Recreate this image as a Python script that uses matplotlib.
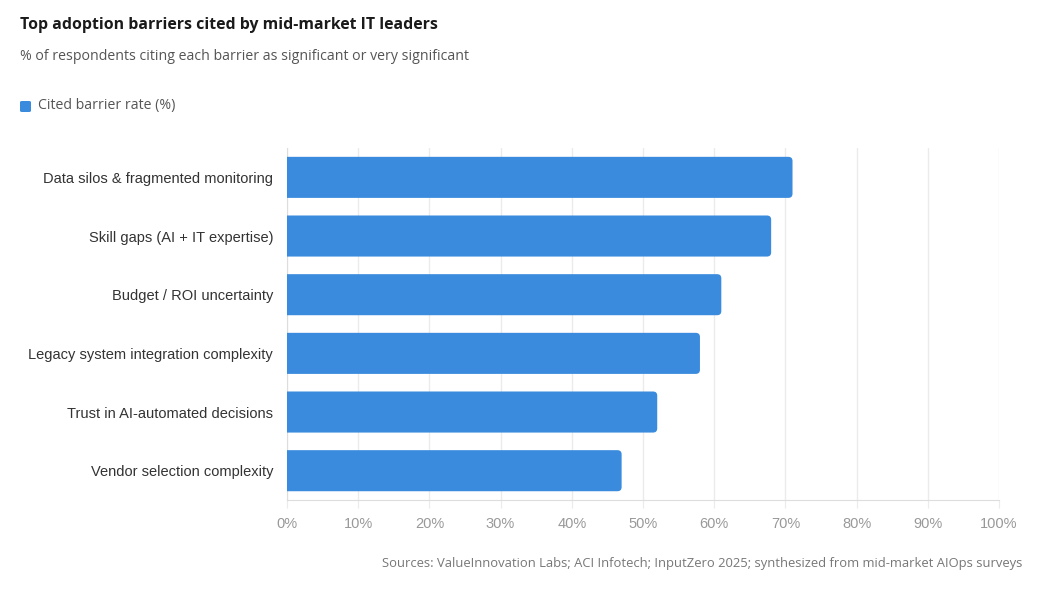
import matplotlib.pyplot as plt
from matplotlib.patches import FancyBboxPatch, PathPatch
from matplotlib.path import Path

barriers = [
    "Data silos & fragmented monitoring",
    "Skill gaps (AI + IT expertise)",
    "Budget / ROI uncertainty",
    "Legacy system integration complexity",
    "Trust in AI-automated decisions",
    "Vendor selection complexity",
]
rates = [71, 68, 61, 58, 52, 47]
ticks = [0, 10, 20, 30, 40, 50, 60, 70, 80, 90, 100]
tick_labels = [f"{t}%" for t in ticks]

bar_color = "#3A8BDD"
grid_color = "#ebebeb"


def right_rounded(x0, y0, w, h, rx, ry):
    x1, y1 = x0 + w, y0 + h
    verts = [(x0, y0), (x1 - rx, y0), (x1, y0), (x1, y0 + ry),
             (x1, y1 - ry), (x1, y1), (x1 - rx, y1), (x0, y1), (x0, y0)]
    codes = [Path.MOVETO, Path.LINETO, Path.CURVE3, Path.CURVE3,
             Path.LINETO, Path.CURVE3, Path.CURVE3, Path.LINETO, Path.CLOSEPOLY]
    return Path(verts, codes)


fig = plt.figure(figsize=(10.39, 5.94), dpi=100)
ax = fig.add_axes([0.2762, 0.1582, 0.9615 - 0.2762, 0.7508 - 0.1582])

ax.set_xlim(0, 100)
ax.set_ylim(len(barriers) - 0.5, -0.5)

# bars with rounded right end only
bars = ax.barh(range(len(barriers)), rates, height=0.7, color="none")
for b in bars:
    p = right_rounded(b.get_x(), b.get_y(), b.get_width(), b.get_height(), 0.6, 0.07)
    ax.add_patch(PathPatch(p, facecolor=bar_color, edgecolor="none", zorder=3))

ax.set_yticks(range(len(barriers)))
ax.set_yticklabels(barriers, fontsize=10.5, color="#333333", family="Liberation Sans")
ax.set_xticks(ticks)
ax.set_xticklabels(tick_labels, fontsize=10.5, color="#999999", family="Liberation Sans")
ax.tick_params(axis="y", length=0, pad=10)
ax.tick_params(axis="x", length=6, color=grid_color, pad=6)
ax.grid(axis="x", color=grid_color, linewidth=1, zorder=0)
for s in ["top", "right"]:
    ax.spines[s].set_visible(False)
ax.spines["bottom"].set_color("#dddddd")
ax.spines["left"].set_color("#dddddd")
ax.set_axisbelow(True)

fig.text(20 / 1039, 1 - 25 / 594, "Top adoption barriers cited by mid-market IT leaders",
         fontsize=11.4, fontweight="bold", color="#1a1a1a", family="Open Sans", va="center")
fig.text(20 / 1039, 1 - 57 / 594,
         "% of respondents citing each barrier as significant or very significant",
         fontsize=10.2, color="#555555", family="Open Sans", va="center")

fig.patches.append(FancyBboxPatch((20 / 1039, 1 - 112 / 594), 11 / 1039, 11 / 594,
                                  boxstyle="round,pad=0,rounding_size=0.002",
                                  transform=fig.transFigure, facecolor=bar_color,
                                  edgecolor="none", figure=fig))
fig.text(38 / 1039, 1 - 106 / 594, "Cited barrier rate (%)", fontsize=10.2,
         color="#555555", family="Open Sans", va="center")

fig.text(1022 / 1039, 1 - 564 / 594,
         "Sources: ValueInnovation Labs; ACI Infotech; InputZero 2025; synthesized from mid-market AIOps surveys",
         fontsize=9.4, color="#777777", family="Open Sans", ha="right", va="center")

fig.savefig("out.png", dpi=100)
